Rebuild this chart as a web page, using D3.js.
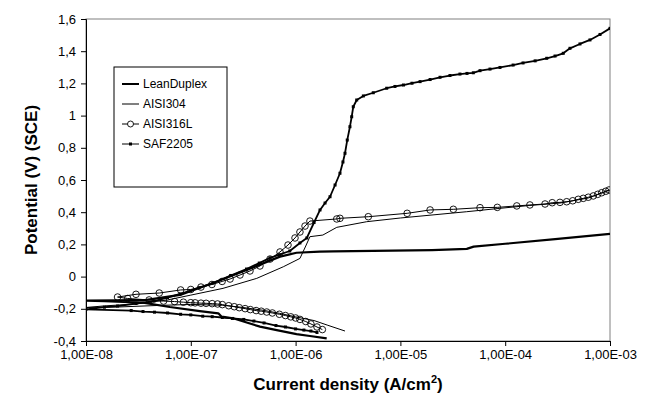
<!DOCTYPE html>
<head>
<meta charset="utf-8">
<script src="https://d3js.org/d3.v7.min.js"></script>
<style>
  body { margin: 0; background: #fff; }
  .axis text { font: 13px "Liberation Sans", Arial, sans-serif; fill: #000; }
  .axis path, .axis line { stroke: #000; }
  .axis-title { font: bold 17px "Liberation Sans", Arial, sans-serif; fill: #000; }
  .legend text { font: 12px "Liberation Sans", Arial, sans-serif; fill: #000; }
</style>
</head>
<body>
<script>
// tick values and labels
var xTicks = [1e-8, 1e-7, 1e-6, 1e-5, 1e-4, 1e-3];
var xTickLabels = ["1,00E-08", "1,00E-07", "1,00E-06", "1,00E-05", "1,00E-04", "1,00E-03"];
var yTicks = [-0.4, -0.2, 0, 0.2, 0.4, 0.6, 0.8, 1, 1.2, 1.4, 1.6];
var yTickLabels = ["-0,4", "-0,2", "0", "0,2", "0,4", "0,6", "0,8", "1", "1,2", "1,4", "1,6"];
var seriesNames = ["LeanDuplex", "AISI304", "AISI316L", "SAF2205"];

// [current density (A/cm2), potential (V SCE)], cathodic branch then anodic branch
var leanDuplexCathodic = [[1.98e-6,-0.384],[1.37e-6,-0.369],[1.02e-6,-0.357],[6.6e-7,-0.332],[4.57e-7,-0.311],[2.53e-7,-0.259],[1.97e-7,-0.249],[1.83e-7,-0.228],[1.22e-7,-0.214],[6.3e-8,-0.189],[3.5e-8,-0.162],[1.5e-8,-0.152],[1e-8,-0.149]];
var leanDuplexAnodic = [[2e-8,-0.147],[3.8e-8,-0.145],[7.9e-8,-0.114],[1.63e-7,-0.040],[3.41e-7,0.041],[7.1e-7,0.124],[1.02e-6,0.148],[1.7e-6,0.155],[2.3e-6,0.157],[2e-5,0.165],[4.3e-5,0.172],[5e-5,0.186],[1e-4,0.204],[3e-4,0.233],[1e-3,0.265]];

var aisi304Cathodic = [[2.96e-6,-0.338],[2e-6,-0.301],[1.5e-6,-0.273],[1e-6,-0.25],[7e-7,-0.228],[5e-7,-0.21],[3e-7,-0.19],[2e-7,-0.178],[1e-7,-0.173],[5e-8,-0.179],[2e-8,-0.189],[1e-8,-0.192]];
var aisi304Anodic = [[1.5e-8,-0.182],[3e-8,-0.170],[6e-8,-0.145],[1e-7,-0.115],[2.03e-7,-0.073],[4.26e-7,-0.011],[7.63e-7,0.061],[1.1e-6,0.113],[1.25e-6,0.190],[1.37e-6,0.248],[1.82e-6,0.258],[2.47e-6,0.306],[4.77e-6,0.341],[1e-5,0.364],[4.29e-5,0.403],[8.9e-5,0.424],[1.72e-4,0.442],[3.33e-4,0.457],[6.2e-4,0.488],[1e-3,0.538]];

var aisi316LCathodic = [[1.8e-6,-0.329],[1.6e-6,-0.313],[1.4e-6,-0.294],[1.25e-6,-0.279],[1.1e-6,-0.266],[1e-6,-0.257],[9e-7,-0.250],[8e-7,-0.242],[7e-7,-0.234],[6e-7,-0.226],[5.3e-7,-0.220],[4.7e-7,-0.215],[4.2e-7,-0.211],[3.7e-7,-0.205],[3.3e-7,-0.199],[2.9e-7,-0.193],[2.6e-7,-0.187],[2.3e-7,-0.181],[2e-7,-0.174],[1.8e-7,-0.170],[1.6e-7,-0.168],[1.4e-7,-0.166],[1.25e-7,-0.165],[1.1e-7,-0.163],[1e-7,-0.162],[8.5e-8,-0.159],[7e-8,-0.155],[5.5e-8,-0.152],[4e-8,-0.145],[2.5e-8,-0.136]];
var aisi316LAnodic = [[2e-8,-0.127],[3e-8,-0.110],[5e-8,-0.102],[8e-8,-0.083],[1e-7,-0.080],[1.25e-7,-0.065],[1.59e-7,-0.049],[1.99e-7,-0.030],[2.37e-7,-0.015],[2.95e-7,0.010],[3.67e-7,0.035],[4.57e-7,0.066],[5.7e-7,0.109],[7.1e-7,0.153],[8.46e-7,0.196],[9.87e-7,0.240],[1.1e-6,0.277],[1.23e-6,0.314],[1.37e-6,0.345],[2.47e-6,0.358],[2.65e-6,0.362],[4.94e-6,0.372],[1.16e-5,0.393],[1.92e-5,0.414],[3.2e-5,0.418],[5.75e-5,0.428],[8.41e-5,0.430],[1.29e-4,0.439],[1.72e-4,0.445],[2.4e-4,0.451],[2.81e-4,0.459],[3.33e-4,0.461],[3.86e-4,0.465],[4.41e-4,0.471],[4.98e-4,0.480],[5.56e-4,0.486],[6.21e-4,0.493],[6.93e-4,0.501],[7.63e-4,0.511],[8.33e-4,0.521],[9.1e-4,0.530],[9.78e-4,0.538]];

var saf2205Cathodic = [[1.6e-6,-0.347],[1.4e-6,-0.338],[1.2e-6,-0.332],[1e-6,-0.325],[8e-7,-0.313],[6.5e-7,-0.304],[5e-7,-0.288],[4e-7,-0.276],[3.2e-7,-0.266],[2.5e-7,-0.260],[2e-7,-0.254],[1.6e-7,-0.249],[1.3e-7,-0.246],[1e-7,-0.238],[8e-8,-0.234],[6e-8,-0.226],[4.5e-8,-0.221],[3.5e-8,-0.217],[2.7e-8,-0.211],[1e-8,-0.203]];
var saf2205Anodic = [[1.5e-8,-0.19],[2e-8,-0.183],[3e-8,-0.167],[4.46e-8,-0.152],[6e-8,-0.130],[7.9e-8,-0.108],[1.2e-7,-0.069],[1.63e-7,-0.040],[2.4e-7,0.007],[3.4e-7,0.047],[4.5e-7,0.084],[5.7e-7,0.116],[7e-7,0.136],[8.8e-7,0.159],[1.1e-6,0.209],[1.28e-6,0.240],[1.5e-6,0.336],[1.71e-6,0.414],[1.91e-6,0.457],[2.13e-6,0.496],[2.38e-6,0.569],[2.65e-6,0.642],[2.83e-6,0.712],[2.96e-6,0.766],[3.11e-6,0.848],[3.3e-6,0.931],[3.43e-6,0.993],[3.55e-6,1.055],[3.83e-6,1.097],[4.43e-6,1.122],[5.51e-6,1.142],[7.4e-6,1.170],[8.88e-6,1.181],[1.07e-5,1.190],[1.29e-5,1.201],[1.54e-5,1.211],[1.92e-5,1.224],[2.39e-5,1.238],[2.97e-5,1.249],[3.7e-5,1.258],[4.32e-5,1.262],[4.96e-5,1.266],[5.75e-5,1.279],[7.16e-5,1.289],[8.92e-5,1.299],[1.19e-4,1.314],[1.48e-4,1.327],[1.93e-4,1.340],[2.49e-4,1.356],[2.99e-4,1.370],[3.58e-4,1.387],[4.15e-4,1.418],[5.17e-4,1.445],[6.44e-4,1.470],[8.03e-4,1.504],[1e-3,1.542]];

var margin = {top: 19, right: 40, bottom: 60, left: 86};
var width = 650 - margin.left - margin.right;
var height = 401 - margin.top - margin.bottom;

var svg = d3.select("body").append("svg")
    .attr("width", 650)
    .attr("height", 401);

var g = svg.append("g")
    .attr("transform", "translate(" + margin.left + "," + margin.top + ")");

var x = d3.scaleLog().domain([1e-8, 1e-3]).range([0, width]);
var y = d3.scaleLinear().domain([-0.4, 1.6]).range([height, 0]);

g.append("clipPath").attr("id", "plotclip")
  .append("rect").attr("width", width).attr("height", height);

// plot frame (top / right)
g.append("rect")
    .attr("width", width).attr("height", height)
    .attr("fill", "none").attr("stroke", "#808080").attr("stroke-width", 1);

var xAxis = d3.axisBottom(x)
    .tickValues(xTicks)
    .tickSize(5).tickPadding(4)
    .tickFormat(function(d, i) { return xTickLabels[i]; });

var yAxis = d3.axisLeft(y)
    .tickValues(yTicks)
    .tickSize(5).tickPadding(5)
    .tickFormat(function(d, i) { return yTickLabels[i]; });

g.append("g").attr("class", "x axis")
    .attr("transform", "translate(0," + height + ")")
    .call(xAxis);

g.append("g").attr("class", "y axis")
    .call(yAxis);

g.selectAll(".axis .domain").attr("stroke", "#000");

var line = d3.line()
    .x(function(d) { return x(d[0]); })
    .y(function(d) { return y(d[1]); });

var plot = g.append("g").attr("clip-path", "url(#plotclip)");

var series = [
  {name: seriesNames[0], data: leanDuplexCathodic.concat(leanDuplexAnodic), width: 2.2, marker: null},
  {name: seriesNames[1], data: aisi304Cathodic.concat(aisi304Anodic), width: 1, marker: null},
  {name: seriesNames[2], data: aisi316LCathodic.concat(aisi316LAnodic), width: 1, marker: "circle"},
  {name: seriesNames[3], data: saf2205Cathodic.concat(saf2205Anodic), width: 1.8, marker: "square"}
];

series.forEach(function(s) {
  plot.append("path")
      .datum(s.data)
      .attr("fill", "none")
      .attr("stroke", "#000")
      .attr("stroke-width", s.width)
      .attr("stroke-linejoin", "round")
      .attr("d", line);

  if (s.marker === "circle") {
    plot.selectAll(null)
        .data(s.data)
      .enter().append("circle")
        .attr("cx", function(d) { return x(d[0]); })
        .attr("cy", function(d) { return y(d[1]); })
        .attr("r", 3.3)
        .attr("fill", "none")
        .attr("stroke", "#000")
        .attr("stroke-width", 0.9);
  } else if (s.marker === "square") {
    plot.selectAll(null)
        .data(s.data)
      .enter().append("rect")
        .attr("x", function(d) { return x(d[0]) - 1.5; })
        .attr("y", function(d) { return y(d[1]) - 1.5; })
        .attr("width", 3)
        .attr("height", 3)
        .attr("fill", "#000");
  }
});

// axis titles
svg.append("text")
    .attr("class", "axis-title")
    .attr("text-anchor", "middle")
    .attr("transform", "translate(37," + (margin.top + height / 2) + ") rotate(-90)")
    .text("Potential (V) (SCE)");

var xt = svg.append("text")
    .attr("class", "axis-title")
    .attr("text-anchor", "middle")
    .attr("x", margin.left + width / 2)
    .attr("y", 390);
xt.append("tspan").text("Current density (A/cm");
xt.append("tspan").attr("font-size", "11px").attr("dy", "-7").text("2");
xt.append("tspan").attr("dy", "7").text(")");

// legend
var legend = svg.append("g").attr("class", "legend")
    .attr("transform", "translate(114,67)");

legend.append("rect")
    .attr("width", 113).attr("height", 120)
    .attr("fill", "#fff").attr("stroke", "#000").attr("stroke-width", 1);

var items = legend.selectAll(".item")
    .data(series)
  .enter().append("g")
    .attr("class", "item")
    .attr("transform", function(d, i) { return "translate(0," + (17 + i * 20) + ")"; });

items.append("line")
    .attr("x1", 8).attr("x2", 25)
    .attr("stroke", "#000")
    .attr("stroke-width", function(d) { return d.width > 2 ? 2 : 1; });

items.filter(function(d) { return d.marker === "circle"; })
  .append("circle").attr("cx", 16.5).attr("r", 3)
    .attr("fill", "#fff").attr("stroke", "#000").attr("stroke-width", 0.9);

items.filter(function(d) { return d.marker === "square"; })
  .append("rect").attr("x", 15).attr("y", -1.5).attr("width", 3).attr("height", 3)
    .attr("fill", "#000");

items.append("text")
    .attr("x", 29).attr("dy", "0.35em")
    .text(function(d) { return d.name; });
</script>
</body>
